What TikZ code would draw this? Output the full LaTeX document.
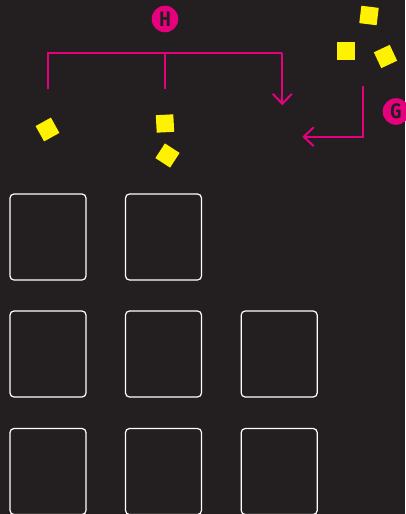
\documentclass[tikz,border=0pt]{standalone}
\usepackage{fontspec}
\setmainfont{Fira Sans}
\usetikzlibrary{arrows.meta}
\definecolor{board}{HTML}{231F20}
\definecolor{pink}{HTML}{E6007E}
\definecolor{chipyellow}{HTML}{FFF200}
\newcommand{\badgetext}[1]{\scalebox{0.82}[1]{#1}}
\tikzset{
	slot/.style={draw=white,line width=1.2pt,rounded corners=4pt,minimum width=76pt,minimum height=86pt,inner sep=0pt},
	chip/.style={fill=chipyellow,minimum size=17.5pt,inner sep=0pt},
	badge/.style={circle,fill=pink,minimum size=26.6pt,inner sep=0pt,text=board,font=\fontsize{21}{21}\selectfont\bfseries},
	guide/.style={draw=pink,line width=2pt},
	barb/.style={-{Straight Barb[length=10pt,width=19pt,line width=2pt]}}
}
\begin{document}
\begin{tikzpicture}[x=1pt,y=-1pt]
		\fill[board] (0,0) rectangle (405,514);
		\useasboundingbox (0,0) rectangle (405,514);
		\newcommand{\chipat}[3]{\node[chip,rotate=#2] (#3) at #1 {};}
		
		% slots
		\node[slot] (s11) at ( 48,237) {}; \node[slot] (s12) at (163.5,237) {};
		\node[slot] (s21) at ( 48,354) {}; \node[slot] (s22) at (163.5,354) {}; \node[slot] (s23) at (279.2,354) {};
		\node[slot] (s31) at ( 48,471.5) {}; \node[slot] (s32) at (163.5,471.5) {}; \node[slot] (s33) at (279.2,471.5) {};
		
		% chips
		\chipat{(47.5,129.5)}{29}{c1}
		\chipat{(165,123.5)}{3}{c2}
		\chipat{(167.5,155.5)}{-33}{c3}
		\chipat{(369,15.5)}{-7}{c4}
		\chipat{(346,51)}{0}{c5}
		\chipat{(385.5,56.5)}{25}{c6}
		
		% H bracket
		\node[badge] (H) at (165,19) {\badgetext{H}};
		\coordinate (h1) at ( 48.3,52.7); \coordinate (h1e) at ( 48.3,89.3);
		\coordinate (h2) at (165  ,52.7); \coordinate (h2e) at (165  ,89.3);
		\coordinate (h3) at (282.3,52.7); \coordinate (h3e) at (282.3,105.3);
		\draw[guide] (h1e)--(h1)--(h3) (h2)--(h2e);
		\draw[guide,barb] (h3)--(h3e);
		
		% G bracket
		\node[badge] (G) at (396,111.5) {\badgetext{G}};
		\coordinate (g1) at (363.3,85.7); \coordinate (g2) at (363.3,136.7); \coordinate (g3) at (302.3,136.7);
		\draw[guide,barb] (g1)--(g2)--(g3);
	\end{tikzpicture}
\end{document}
